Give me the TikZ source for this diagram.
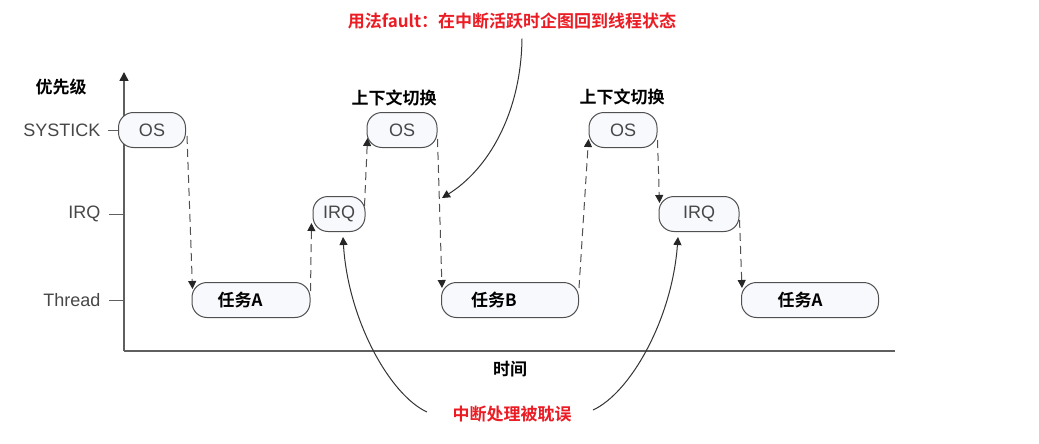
\documentclass[tikz,border=0pt]{standalone}
\usepackage{fontspec}
\setmainfont{Liberation Sans}
\newfontfamily\cjk{Noto Sans CJK SC}[BoldFont={Noto Sans CJK SC Bold}]
\usetikzlibrary{arrows.meta,calc}
\definecolor{redtxt}{RGB}{235,28,36}
\definecolor{boxfill}{RGB}{247,249,253}
\definecolor{linegray}{RGB}{80,80,80}
\definecolor{axisgray}{RGB}{95,95,95}
\tikzset{
  box/.style={draw=linegray, line width=1pt, fill=boxfill, rounded corners=15pt,
    minimum height=35pt, inner sep=0pt},
  lat/.style={font=\fontsize{18}{20}\selectfont, text=black!72},
  zh/.style={font=\cjk\bfseries\fontsize{17}{19}\selectfont, text=black},
  redzh/.style={font=\cjk\bfseries\fontsize{17}{19}\selectfont, text=redtxt},
  tip/.style={-{Triangle[width=8pt,length=8pt,color=black!85]}},
  dasharrow/.style={tip, draw=linegray, line width=1pt, dash pattern=on 8pt off 5pt},
  curvearrow/.style={tip, draw=black!80, line width=1pt},
  axis/.style={draw=axisgray, line width=1.6pt},
}
\begin{document}
\begin{tikzpicture}[x=1pt,y=-1pt]
\path[use as bounding box, fill=white] (0,0) rectangle (1039,444);

% axes
\coordinate (origin) at (124,351);
\coordinate (ytop) at (124,72);
\coordinate (xend) at (895,351);
\draw[axis, -{Triangle[width=9pt,length=9pt,color=black!85]}] (origin) -- (ytop);
\draw[axis] (origin) -- (xend);

% axis labels
\node[zh] (prio) at (61,87) {优先级};
\node[zh] (time) at (510,369) {时间};
\node[lat, anchor=east] (lsys) at (104,130) {SYSTICK};
\node[lat, anchor=east] (lirq) at (104,214) {IRQ};
\node[lat, anchor=east] (lthr) at (104,300) {Thread};
\coordinate (tsys) at (124,130);
\coordinate (tirq) at (124,214);
\coordinate (tthr) at (124,300);
\draw[axisgray, line width=1pt] (lsys.east) ++(4,0) -- (tsys);
\draw[axisgray, line width=1pt] (lirq.east) ++(5,0) -- (tirq);
\draw[axisgray, line width=1pt] (lthr.east) ++(5,0) -- (tthr);

% boxes
\node[box, lat, minimum width=67pt] (os1) at (152,130) {OS};
\node[box, zh, minimum width=118pt] (ta) at (251,300) {任务A\hspace*{22pt}};
\node[box, lat, minimum width=52pt] (irq1) at (339,214) {IRQ};
\node[box, lat, minimum width=70pt] (os2) at (402,130) {OS};
\node[box, zh, minimum width=137pt] (tb) at (510,300) {任务B\hspace*{32pt}};
\node[box, lat, minimum width=68pt] (os3) at (623,130) {OS};
\node[box, lat, minimum width=80pt] (irq2) at (699,214) {IRQ};
\node[box, zh, minimum width=137pt] (ta2) at (810,300) {任务A\hspace*{20pt}};

\node[zh] (ctx1) at (394,98) {上下文切换};
\node[zh] (ctx2) at (622,97) {上下文切换};

% dashed transitions
\draw[dasharrow] ($(os1.east)+(1,6)$) -- ($(ta.west)+(1,-11)$);
\draw[dasharrow] ($(ta.east)+(0,-9)$) -- ($(irq1.west)+(-1,9)$);
\draw[dasharrow] ($(irq1.east)+(-1,-8)$) -- ($(os2.west)+(1,8)$);
\draw[dasharrow] ($(os2.east)+(0,9)$) -- ($(tb.west)+(1,-12)$);
\draw[dasharrow] ($(tb.east)+(0,-12)$) -- ($(os3.west)+(0,9)$);
\draw[dasharrow] ($(os3.east)+(0,10)$) -- ($(irq2.west)+(1,-11)$);
\draw[dasharrow] ($(irq2.east)+(0,6)$) -- ($(ta2.west)+(1,-12)$);

% annotations
\node[redzh] (title) at (512,21) {用法fault：在中断活跃时企图回到线程状态};
\coordinate (hit) at (442,198);
\draw[curvearrow] ($(title.south)+(10,6)$) .. controls (521,115) and (487,170) .. (hit);

\node[redzh] (delay) at (512,414) {中断处理被耽误};
\draw[curvearrow] ($(delay.west)+(-22,-2)$) .. controls (390,395) and (348,320) .. ($(irq1.south)+(4,5)$);
\draw[curvearrow] ($(delay.east)+(18,-4)$) .. controls (630,393) and (672,320) .. ($(irq2.south)+(-21,5)$);
\end{tikzpicture}
\end{document}
